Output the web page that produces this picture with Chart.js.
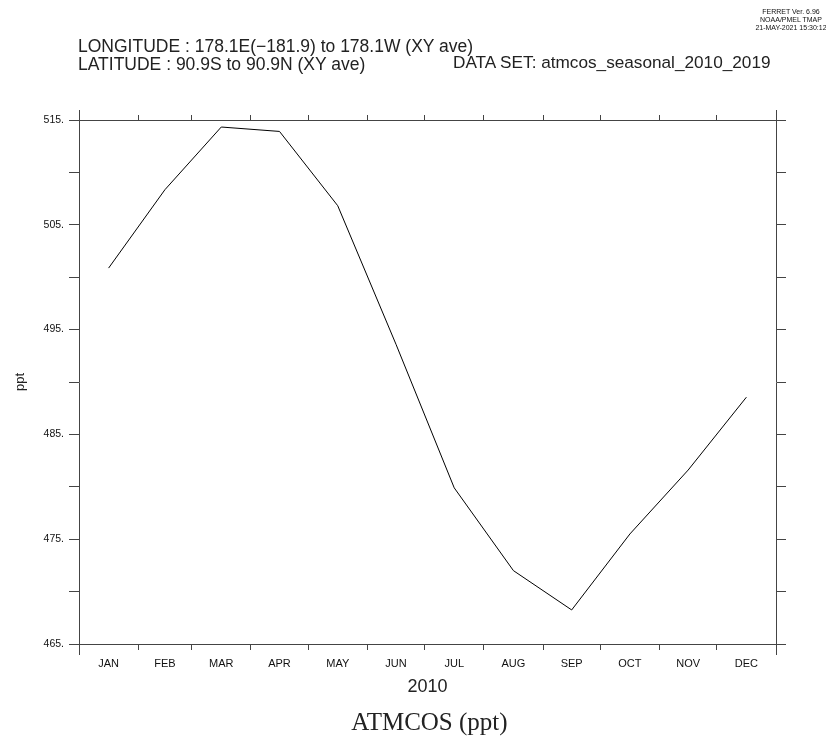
<!DOCTYPE html>
<html><head><meta charset="utf-8">
<script src="https://cdn.jsdelivr.net/npm/chart.js@4.4.1/dist/chart.umd.min.js"></script>
<style>
html,body{margin:0;padding:0;background:#fff;}
#wrap{position:relative;width:826px;height:742px;overflow:hidden;background:#fff;}
canvas{position:absolute;left:0;top:0;}
.t{position:absolute;white-space:nowrap;font-family:'Liberation Sans',Arial,sans-serif;color:#222;line-height:1;}
.s{position:absolute;white-space:nowrap;font-family:'Liberation Sans Narrow','Liberation Sans',sans-serif;color:#111;line-height:1;font-size:7px;text-align:center;width:100px;}
</style></head><body>
<div id="wrap">
<canvas id="c" width="826" height="742"></canvas>
<div class="s" style="left:741px;top:8px;">FERRET Ver. 6.96</div>
<div class="s" style="left:741px;top:16px;">NOAA/PMEL TMAP</div>
<div class="s" style="left:741px;top:24px;">21-MAY-2021 15:30:12</div>
<div class="t" style="left:78px;top:38px;font-size:17.5px;">LONGITUDE : 178.1E(−181.9) to 178.1W (XY ave)</div>
<div class="t" style="left:78px;top:56px;font-size:17.5px;">LATITUDE : 90.9S to 90.9N (XY ave)</div>
<div class="t" style="left:453px;top:54px;font-size:17.2px;">DATA SET: atmcos_seasonal_2010_2019</div>
<div class="t" style="left:279.5px;width:300px;text-align:center;top:709px;font-size:25px;font-family:'Liberation Serif','Times New Roman',serif;">ATMCOS (ppt)</div>
</div>
<script>
// ---- data ----
const MONTHS = ['JAN','FEB','MAR','APR','MAY','JUN','JUL','AUG','SEP','OCT','NOV','DEC'];
const MONTH_DAYS = [31,28,31,30,31,30,31,31,30,31,30,31];
const ATMCOS = [500.87, 508.35, 514.33, 513.91, 506.82, 493.6, 479.9, 472.0, 468.25, 475.5, 481.6, 488.55];
const Y_MIN = 465, Y_MAX = 515, Y_STEP = 5;
const Y_TICK_LABELS = ['515.','505.','495.','485.','475.','465.'];
const X_TITLE = '2010';
const Y_TITLE = 'ppt';

// month boundaries and mid-month positions (day of year)
const bounds = [0];
MONTH_DAYS.forEach(d => bounds.push(bounds[bounds.length-1] + d));
const mids = MONTH_DAYS.map((d,i) => bounds[i] + d/2);
const midName = {};
mids.forEach((m,i) => midName[m] = MONTHS[i]);
const allXTicks = bounds.concat(mids).sort((a,b)=>a-b);
const isBound = v => bounds.indexOf(v) >= 0;

const AXIS = '#444';
const cornerPlugin = {
  id: 'corners',
  afterDraw(chart) {
    const {ctx, chartArea: a} = chart;
    ctx.save();
    ctx.strokeStyle = AXIS; ctx.lineWidth = 1;
    ctx.beginPath();
    [a.left, a.right].forEach(x => {
      const px = Math.round(x) + 0.5;
      ctx.moveTo(px, a.top - 10); ctx.lineTo(px, a.top);
      ctx.moveTo(px, a.bottom); ctx.lineTo(px, a.bottom + 11);
    });
    ctx.stroke();
    ctx.restore();
  }
};

Chart.defaults.font.family = "'Liberation Sans Narrow','Liberation Sans',sans-serif";
Chart.defaults.color = '#111';

new Chart(document.getElementById('c'), {
  type: 'line',
  data: {
    datasets: [{
      data: ATMCOS.map((v,i) => ({x: mids[i], y: v})),
      borderColor: '#000', borderWidth: 1, pointRadius: 0, tension: 0, fill: false
    }]
  },
  plugins: [cornerPlugin],
  options: {
    responsive: false, animation: false, events: [],
    layout: {padding: {left: 0, right: 0, top: 0, bottom: 46}},
    plugins: {legend: {display: false}, tooltip: {enabled: false}, title: {display: false}},
    scales: {
      x: {
        type: 'linear', position: 'bottom', min: 0, max: bounds[12],
        afterBuildTicks: s => { s.ticks = allXTicks.map(v => ({value: v})); },
        afterFit: s => { s.height = 52; },
        ticks: {autoSkip: false, maxRotation: 0, minRotation: 0, padding: 7,
          font: {size: 11}, color: '#111',
          callback: v => midName[v] !== undefined ? midName[v] : ''},
        grid: {drawOnChartArea: false, drawTicks: true, tickLength: 6,
          tickColor: c => (c.tick && isBound(c.tick.value)) ? AXIS : 'rgba(0,0,0,0)',
          color: 'rgba(0,0,0,0)'},
        border: {display: true, color: AXIS, width: 1},
        title: {display: true, text: X_TITLE, font: {size: 18, family: "'Liberation Sans',sans-serif", lineHeight: 1},
          padding: {top: 0, bottom: 0}, color: '#222'}
      },
      x2: {
        type: 'linear', position: 'top', min: 0, max: bounds[12],
        afterBuildTicks: s => { s.ticks = bounds.map(v => ({value: v})); },
        afterFit: s => { s.height = 120; },
        ticks: {display: false, autoSkip: false},
        grid: {drawOnChartArea: false, drawTicks: true, tickLength: 5, tickColor: AXIS, color: 'rgba(0,0,0,0)'},
        border: {display: true, color: AXIS, width: 1}
      },
      y: {
        type: 'linear', position: 'left', min: Y_MIN, max: Y_MAX,
        afterFit: s => { s.width = 79; },
        ticks: {stepSize: Y_STEP, autoSkip: false, padding: 5, font: {size: 10.5}, color: '#111',
          callback: v => Y_TICK_LABELS.indexOf(v + '.') >= 0 ? v + '.' : ''},
        grid: {drawOnChartArea: false, drawTicks: true, tickLength: 10, tickColor: AXIS, color: 'rgba(0,0,0,0)'},
        border: {display: true, color: AXIS, width: 1},
        title: {display: true, text: Y_TITLE, font: {size: 13, family: "'Liberation Sans',sans-serif", lineHeight: 1.2},
          padding: {top: 13, bottom: 0}, color: '#222'}
      },
      y2: {
        type: 'linear', position: 'right', min: Y_MIN, max: Y_MAX,
        afterFit: s => { s.width = 50; },
        ticks: {display: false, stepSize: Y_STEP, autoSkip: false},
        grid: {drawOnChartArea: false, drawTicks: true, tickLength: 10, tickColor: AXIS, color: 'rgba(0,0,0,0)'},
        border: {display: true, color: AXIS, width: 1}
      }
    }
  }
});
</script>
</body></html>
